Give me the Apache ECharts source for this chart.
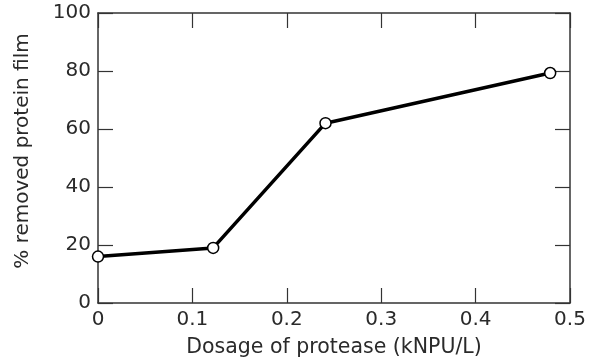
<!DOCTYPE html>
<html>
<head>
<meta charset="utf-8">
<script src="https://cdn.jsdelivr.net/npm/echarts@6/dist/echarts.min.js"></script>
<style>
html, body { margin: 0; padding: 0; background: #fff; }
#chart { width: 603px; height: 363px; }
</style>
</head>
<body>
<div id="chart"></div>
<script>
var dosage = [0, 0.122, 0.241, 0.479];
var removed = [16, 19, 62, 79.3];

var points = [];
for (var i = 0; i < dosage.length; i++) {
    points.push([dosage[i], removed[i]]);
}

var myChart = echarts.init(document.getElementById('chart'));
var font = 'DejaVu Sans';
var textColor = '#2a2a2a';
var axisColor = '#333';

// frame axes: ticks inside on all four sides, labels only bottom/left
function frameAxis(extra) {
    var ax = {
        axisLine: { show: true, onZero: false, lineStyle: { color: axisColor, width: 1.5 } },
        axisTick: { show: true, inside: true, length: 15, lineStyle: { color: axisColor, width: 1.2 } },
        splitLine: { show: false }
    };
    for (var k in extra) ax[k] = extra[k];
    return ax;
}

var option = {
    animation: false,
    grid: { left: 98, right: 33, top: 13, bottom: 60 },
    xAxis: [
        frameAxis({
            type: 'value', min: 0, max: 0.5, interval: 0.1,
            name: 'Dosage of protease (kNPU/L)',
            nameLocation: 'middle', nameGap: 34,
            nameTextStyle: { fontFamily: font, fontSize: 20.5, color: textColor },
            axisLabel: { margin: 7, fontFamily: font, fontSize: 20, color: textColor,
                formatter: function (v) { return v === 0 ? '0' : v.toFixed(1); } }
        }),
        frameAxis({
            type: 'value', position: 'top', min: 0, max: 0.5, interval: 0.1,
            axisLabel: { show: false }
        })
    ],
    yAxis: [
        frameAxis({
            type: 'value', min: 0, max: 100, interval: 20,
            name: '% removed protein film',
            nameLocation: 'middle', nameGap: 65,
            nameTextStyle: { fontFamily: font, fontSize: 20, color: textColor, padding: [0, 0, 0, 14] },
            axisLabel: { margin: 7, fontFamily: font, fontSize: 20, color: textColor }
        }),
        frameAxis({
            type: 'value', position: 'right', min: 0, max: 100, interval: 20,
            axisLabel: { show: false }
        })
    ],
    series: [{
        type: 'line',
        data: points,
        symbol: 'circle',
        symbolSize: 11,
        lineStyle: { color: '#000', width: 3.5 },
        itemStyle: { color: '#fff', borderColor: '#000', borderWidth: 1.5 }
    }]
};

if (option && typeof option === 'object') {
    myChart.setOption(option);
}
</script>
</body>
</html>
